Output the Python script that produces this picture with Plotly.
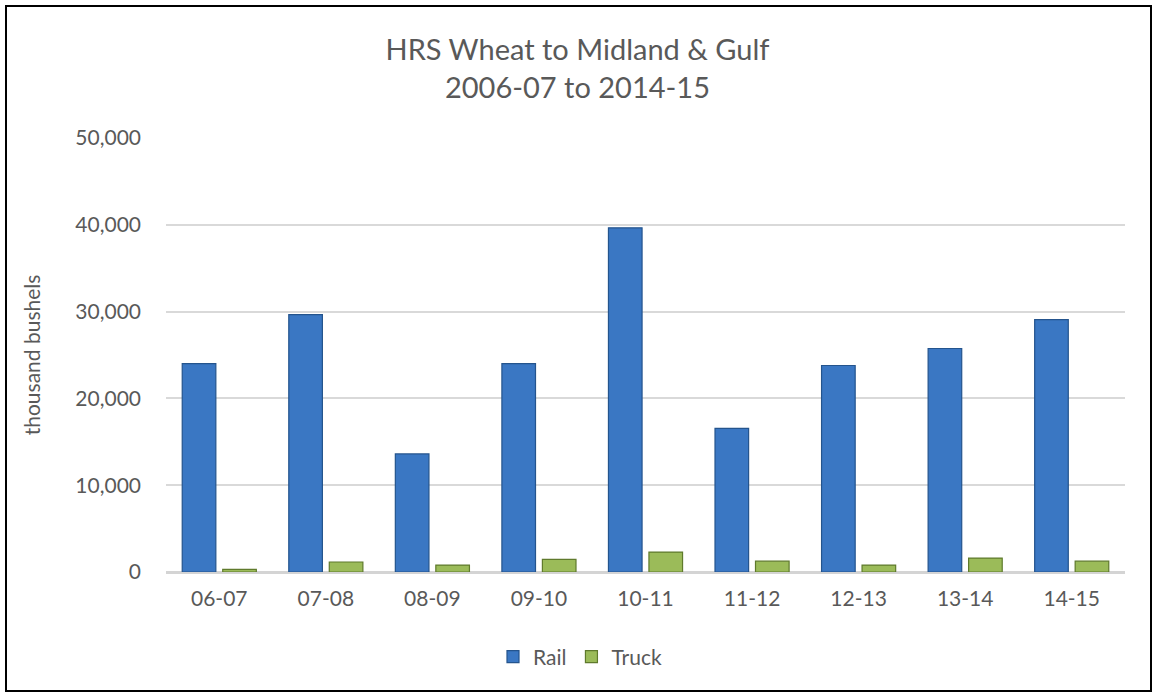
import plotly.graph_objects as go

categories = ["06-07", "07-08", "08-09", "09-10", "10-11", "11-12", "12-13", "13-14", "14-15"]
rail = [24000, 29650, 13600, 24000, 39650, 16550, 23790, 25750, 29080]
truck = [300, 1150, 800, 1450, 2300, 1250, 800, 1600, 1250]
y_ticks = [0, 10000, 20000, 30000, 40000, 50000]
y_tick_labels = ["0", "10,000", "20,000", "30,000", "40,000", "50,000"]

FONT = "Lato"
GRAY = "#595959"

L, R, T, B = 166, 30, 138, 122
PW, PH = 1155 - L - R, 694 - T - B

fig = go.Figure()
fig.add_trace(go.Bar(
    x=categories, y=rail, name="Rail",
    marker=dict(color="#3a77c3", line=dict(color="#24548d", width=1.2)),
))
fig.add_trace(go.Bar(
    x=categories, y=truck, name="Truck",
    marker=dict(color="#9bbb59", line=dict(color="#5f7a2c", width=1.2)),
))

fig.update_layout(
    width=1155, height=694,
    margin=dict(l=L, r=R, t=T, b=B, autoexpand=False),
    paper_bgcolor="white", plot_bgcolor="white",
    font=dict(family=FONT, color=GRAY, size=21),
    title=dict(
        text="HRS Wheat to Midland &amp; Gulf<br>2006-07 to 2014-15",
        x=0.5, xanchor="center", xref="container",
        y=1 - 60 / 694, yanchor="middle",
        font=dict(family=FONT, size=29, color=GRAY),
    ),
    barmode="group", bargap=0.24, bargroupgap=0.17,
    showlegend=True,
    legend=dict(
        orientation="h", x=(580 - L) / PW, xanchor="center",
        y=(572 - 657) / PH, yanchor="middle",
        font=dict(family=FONT, size=21, color=GRAY),
        itemwidth=30, traceorder="normal",
    ),
    xaxis=dict(
        type="category",
        showgrid=False, showline=False, ticks="",
        tickfont=dict(family=FONT, size=21, color=GRAY),
        ticklabelstandoff=12, tickangle=0,
    ),
    yaxis=dict(
        range=[0, 50000], tickvals=y_ticks, ticktext=y_tick_labels,
        showgrid=True, gridcolor="#d9d9d9", gridwidth=1.5,
        zeroline=True, zerolinecolor="#d4d4d4", zerolinewidth=2.5,
        showline=False, ticks="",
        tickfont=dict(family=FONT, size=21, color=GRAY),
        ticklabelstandoff=24,
        title=dict(text="thousand bushels", font=dict(family=FONT, size=21, color=GRAY), standoff=28),
    ),
    shapes=[dict(
        type="rect", xref="paper", yref="paper",
        x0=(6 - L) / PW, x1=(1151 - L) / PW,
        y0=(572 - 691) / PH, y1=(572 - 6) / PH,
        line=dict(color="black", width=2), fillcolor="rgba(0,0,0,0)", layer="above",
    )],
)

fig.write_html("out.html", config={"displayModeBar": False},
               post_script="document.body.style.margin='0px';")
